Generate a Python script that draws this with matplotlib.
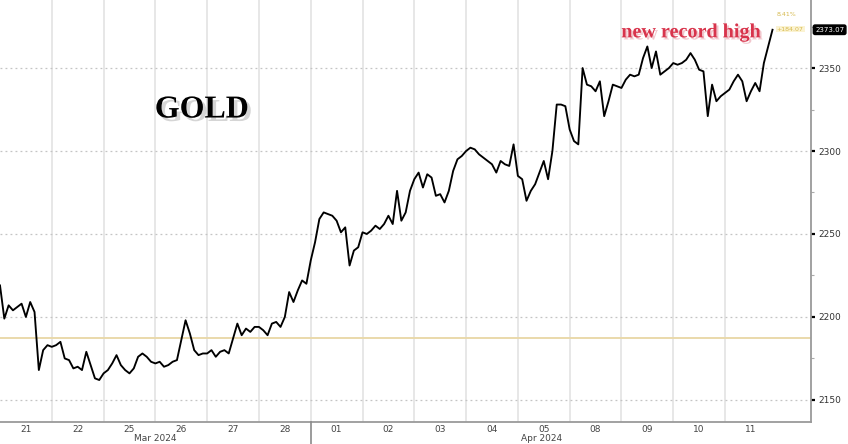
import matplotlib
matplotlib.use("Agg")
import matplotlib.pyplot as plt
import matplotlib.patheffects as pe
from matplotlib.lines import Line2D

# trading sessions shown on the axis
day_labels = ["21", "22", "25", "26", "27", "28", "01", "02", "03", "04", "05", "08", "09", "10", "11"]
month_labels = ["Mar 2024", "Apr 2024"]
month_label_days = [3.0, 10.45]
month_break_day = 6

# spot gold, 2-hourly quotes per session (USD/oz)
mar21 = [2219, 2199, 2207, 2204, 2206, 2208, 2200, 2209, 2203, 2168, 2180, 2183]
mar22 = [2182, 2183, 2185, 2175, 2174, 2169, 2170, 2168, 2179, 2171, 2163, 2162]
mar25 = [2166, 2168, 2172, 2177, 2171, 2168, 2166, 2169, 2176, 2178, 2176, 2173]
mar26 = [2172, 2173, 2170, 2171, 2173, 2174, 2186, 2198, 2190, 2180, 2177, 2178]
mar27 = [2178, 2180, 2176, 2179, 2180, 2178, 2187, 2196, 2189, 2193, 2191, 2194]
mar28 = [2194, 2192, 2189, 2196, 2197, 2194, 2200, 2215, 2209, 2216, 2222, 2220]
apr01 = [2234, 2245, 2259, 2263, 2262, 2261, 2258, 2251, 2254, 2231, 2240, 2242]
apr02 = [2251, 2250, 2252, 2255, 2253, 2256, 2261, 2256, 2276, 2258, 2263, 2276]
apr03 = [2283, 2287, 2278, 2286, 2284, 2273, 2274, 2269, 2276, 2288, 2295, 2297]
apr04 = [2300, 2302, 2301, 2298, 2296, 2294, 2292, 2287, 2294, 2292, 2291, 2304]
apr05 = [2285, 2283, 2270, 2276, 2280, 2287, 2294, 2283, 2300, 2328, 2328, 2327]
apr08 = [2313, 2306, 2304, 2350, 2340, 2339, 2336, 2342, 2321, 2330, 2340, 2339]
apr09 = [2338, 2343, 2346, 2345, 2346, 2356, 2363, 2350, 2360, 2346, 2348, 2350]
apr10 = [2353, 2352, 2353, 2355, 2359, 2355, 2349, 2348, 2321, 2340, 2330, 2333]
apr11 = [2335, 2337, 2342, 2346, 2342, 2330, 2336, 2341, 2336, 2353, 2363, 2373.07]
sessions = [mar21, mar22, mar25, mar26, mar27, mar28, apr01, apr02,
            apr03, apr04, apr05, apr08, apr09, apr10, apr11]
slots_per_day = 12

reference_price = 2187.5
last_price = 2373.07
pct_change = "8.41%"
abs_change = "+184.07"
y_ticks = [2150, 2200, 2250, 2300, 2350]

times = [d + k / slots_per_day for d, s in enumerate(sessions) for k in range(len(s))]
prices = [p for s in sessions for p in s]

fig = plt.figure(figsize=(8.48, 4.44), dpi=100)
ax = fig.add_axes([0, 22 / 444, 811 / 848, 422 / 444])

ax.set_xlim(0, 15.66)
ax.set_ylim(2136.7, 2391)

# grid
for d in range(1, len(sessions)):
    ax.axvline(d, color="#e0e0e0", lw=1.1, zorder=0)
for y in y_ticks:
    ax.axhline(y, color="#c4c4c4", lw=0.9, ls=(0, (1.5, 2.5)), zorder=0)
ax.axhline(reference_price, color="#ead9ab", lw=1.4, zorder=1)

ax.plot(times, prices, color="black", lw=1.35, zorder=3)

# spines
for side in ["top", "left"]:
    ax.spines[side].set_visible(False)
for side in ["bottom", "right"]:
    ax.spines[side].set_color("#9a9a9a")
    ax.spines[side].set_linewidth(1.3)

# y axis on the right
ax.yaxis.tick_right()
ax.set_yticks(y_ticks)
ax.set_yticks([2175, 2225, 2275, 2325, 2375], minor=True)
ax.tick_params(axis="y", which="major", direction="out", length=3, width=1.6,
               color="black", labelsize=6.5, labelcolor="#333333", pad=2)
ax.tick_params(axis="y", which="minor", direction="out", length=2, width=0.8, color="#aaaaaa")

# x axis: session labels
ax.set_xticks([d + 0.5 for d in range(len(day_labels))])
ax.set_xticklabels(day_labels)
ax.tick_params(axis="x", length=0, labelsize=6.5, labelcolor="#444444", pad=2)
for label, xd in zip(month_labels, month_label_days):
    ax.text(xd, -0.028, label, transform=ax.get_xaxis_transform(), ha="center", va="top",
            fontsize=6.5, color="#444444")

# month separator reaching below the axis
sep_x = ax.transData.transform((month_break_day, 0))[0] / fig.bbox.width
fig.add_artist(Line2D([sep_x, sep_x], [0, 22 / 444], color="#8a8a8a", lw=1.2))

# annotations
ax.text(3.9, 2324.7, "GOLD", family="Liberation Serif", fontweight="bold", fontsize=23,
        ha="center", va="center", color="black",
        path_effects=[pe.SimplePatchShadow(offset=(2.5, -2.5), shadow_rgbFace="#888888", alpha=0.35),
                      pe.Normal()])
ax.text(13.34, 2371.5, "new record high", family="Liberation Serif", fontweight="bold",
        fontsize=14.5, ha="center", va="center", color="#d8344c",
        path_effects=[pe.SimplePatchShadow(offset=(1.5, -1.5), shadow_rgbFace="#e9a3ad", alpha=0.6),
                      pe.Normal()])
ax.text(15.0, 2382.5, pct_change, fontsize=4.5, color="#d6b94e", ha="left", va="center")
ax.text(15.0, 2373.5, abs_change, fontsize=4.5, color="#d6b94e", ha="left", va="center",
        bbox=dict(boxstyle="square,pad=0.15", fc="#fbf3d2", ec="none"))
ax.annotate(f"{last_price:.2f}", xy=(1.005, last_price), xycoords=("axes fraction", "data"),
            fontsize=5, color="white", ha="left", va="center", annotation_clip=False,
            bbox=dict(boxstyle="round,pad=0.25", fc="black", ec="black"))

fig.savefig("out.png", dpi=100)
